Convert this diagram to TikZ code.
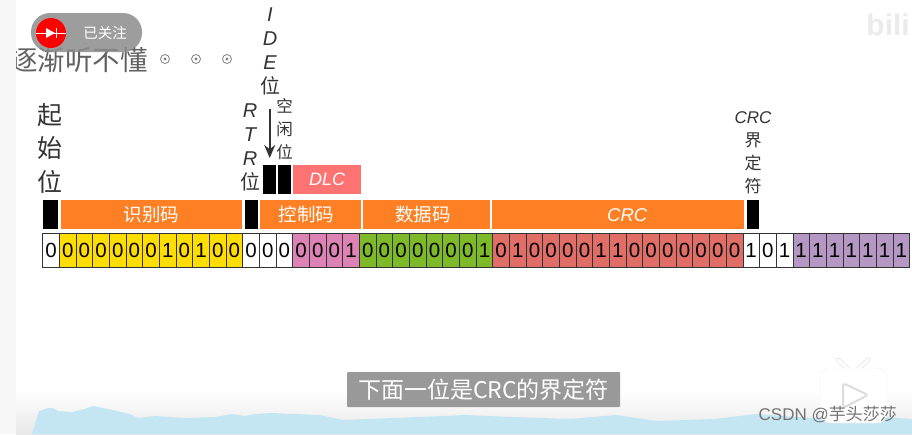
\documentclass[tikz,border=0pt]{standalone}
\usepackage{fontspec}
\setmainfont{Liberation Sans}
\newfontfamily\cjk{Noto Sans CJK SC}
\usetikzlibrary{calc, positioning}
\usetikzlibrary{arrows.meta}
\definecolor{bityellow}{HTML}{FFDD00}
\definecolor{bitpink}{HTML}{DC82B4}
\definecolor{bitgreen}{HTML}{7DB928}
\definecolor{bitred}{HTML}{E06E66}
\definecolor{bitpurple}{HTML}{B497C3}
\definecolor{fieldorange}{HTML}{FF8024}
\definecolor{dlcred}{HTML}{FF7373}
\definecolor{labelgray}{HTML}{333333}
\definecolor{subgray}{HTML}{999999}
\definecolor{wave}{HTML}{C4E6F3}
\tikzset{
  bitcell/.style={draw=black!80, line width=0.7pt, minimum width=16.67pt, minimum height=34pt,
    inner sep=0pt, font=\fontsize{20.5}{20}\selectfont},
  field/.style={fill=fieldorange, text=white, anchor=north west, minimum height=29pt,
    inner sep=0pt, font=\cjk\fontsize{18.5}{19}\selectfont},
  blackbit/.style={fill=black, anchor=north west, inner sep=0pt},
  vlabel/.style={text=labelgray, align=center, inner sep=0pt},
  watchdot/.style={circle, draw=gray, fill=white, line width=0.8pt, minimum size=9pt, inner sep=0pt}
}
\begin{document}
\begin{tikzpicture}[x=1pt,y=-1pt]
\def\w{16.67}
\def\xo{42.7}
\useasboundingbox (0,0) rectangle (912,434);
\fill[white] (0,0) rectangle (912,434);

% bottom of the page
\shade[top color=white, bottom color=black!9] (16,390) rectangle (912,434);
\fill[wave] (32,434) -- (39,411) -- (48,408) -- (53,408) -- (58,411) -- (72,412) -- (85,409) -- (93,406)
  -- (108,409) -- (130,414) -- (138,418) -- (155,416) -- (185,418) -- (215,417) -- (232,414) -- (245,416)
  -- (255,414) -- (272,413) -- (320,415) -- (343,420) -- (395,418) -- (465,415) -- (512,417) -- (570,419)
  -- (616,415) -- (657,421) -- (715,419) -- (756,414) -- (825,419) -- (872,416) -- (912,419) -- (912,434) -- cycle;

% scrolling comment and follow badge
\node[text=black!62, anchor=east, inner sep=0pt, font=\cjk\fontsize{27.5}{28}\selectfont] (comment) at (148,60) {逐渐听不懂};
\fill[black!3] (0,0) rectangle (16,434);
\foreach \x [count=\i] in {165,196,227} {
  \node[watchdot] (dot\i) at (\x,59) {};
  \fill[gray] (dot\i) circle (1.6);
}
\fill[black!45, opacity=0.85, rounded corners=19pt] (31,13) rectangle (142,52);
\node[circle, fill=red, minimum size=30pt, inner sep=0pt] (avatar) at (51,33) {};
\draw[white, line width=0.7pt] (avatar.west) -- (avatar.east);
\fill[white] (46,28) -- (55,33) -- (46,38) -- cycle;
\draw[white, line width=1pt] (56,28) -- (56,38);
\node[text=white, font=\cjk\fontsize{14.5}{15}\selectfont] (follow) at (105,33) {已关注};

% bit row
\foreach \first/\col/\bits in {0/white/{0}, 1/bityellow/{0,0,0,0,0,0,1,0,1,0,0}, 12/white/{0,0,0},
    15/bitpink/{0,0,0,1}, 19/bitgreen/{0,0,0,0,0,0,0,1},
    27/bitred/{0,1,0,0,0,0,1,1,0,0,0,0,0,0,0}, 42/white/{1,0,1}, 45/bitpurple/{1,1,1,1,1,1,1}} {
  \foreach \b [count=\i from \first] in \bits {
    \node[bitcell, fill=\col] (bit\i) at ({\xo+(\i+0.5)*\w},250) {\b};
  }
}

% field row
\node[blackbit, minimum width=15.5pt, minimum height=29pt] (sof) at (42.5,200) {};
\node[field, minimum width=181pt] (idfield) at (61,200) {识别码};
\node[blackbit, minimum width=13pt, minimum height=29pt] (rtrbit) at (245,200) {};
\node[field, minimum width=101.5pt] (ctrlfield) at (259.5,200) {\hspace*{-8pt}控制码};
\node[field, minimum width=127pt] (datafield) at (363,200) {\hspace*{-7pt}数据码};
\node[field, minimum width=252pt, font=\itshape\fontsize{18.5}{19}\selectfont] (crcfield) at (492,200) {\hspace*{18pt}CRC};
\node[blackbit, minimum width=12.5pt, minimum height=29pt] (crcdel) at (746.5,200) {};

% control code details
\node[blackbit, minimum width=13pt, minimum height=29pt] (idebit) at (263,165) {};
\node[blackbit, minimum width=13pt, minimum height=29pt] (spacebit) at (278,165) {};
\node[field, fill=dlcred, minimum width=68pt, font=\itshape\fontsize{18}{19}\selectfont] (dlc) at (293,165) {DLC};

% labels
\node[vlabel, font=\cjk\fontsize{25}{33.5}\selectfont] (soflabel) at (50,148) {起\\始\\位};
\node[vlabel, font=\itshape\fontsize{20}{24}\selectfont] (rtrlabel) at (250,147) {R\\T\\R\\{\cjk\upshape 位}};
\node[vlabel, font=\itshape\fontsize{20}{24}\selectfont] (idelabel) at (270,51) {I\\D\\E\\{\cjk\upshape 位}};
\node[vlabel, font=\cjk\fontsize{16.5}{23}\selectfont] (spacelabel) at (284.5,129) {空\\闲\\位};
\node[vlabel, font=\fontsize{17}{23}\selectfont] (crclabel) at (753,153) {{\itshape CRC}\\{\cjk 界}\\{\cjk 定}\\{\cjk 符}};
\draw[-{Stealth[length=13pt,width=11pt]}, line width=1.8pt, labelgray, shorten <=14pt, shorten >=7pt]
  (idelabel.south -| idebit.north) -- (idebit.north);

% subtitle
\node[fill=subgray, text=white, rounded corners=1pt, minimum width=273pt, minimum height=35pt, inner sep=0pt,
  font=\cjk\fontsize{23}{24}\selectfont] (subtitle) at (483.5,389.5) {下面一位是CRC的界定符};

% player mark and watermarks
\draw[black!10, line width=4.5pt, line cap=round] (848,369) -- (838,360) (858,369) -- (868,360);
\draw[white, line width=3pt, line cap=round] (848,369) -- (838,360) (858,369) -- (868,360);
\fill[white, rounded corners=10pt, draw=black!6] (820,368) rectangle (887,423);
\draw[black!14, fill=white, line width=2pt, rounded corners=3pt] (843,383) -- (868,395) -- (843,408) -- cycle;
\node[text=black!55, anchor=east, inner sep=0pt, font=\fontsize{17}{18}\selectfont] (csdn) at (897,415) {CSDN @{\cjk 芋头莎莎}};
\node[text=black!8, anchor=east, inner sep=0pt, font=\bfseries\fontsize{30}{31}\selectfont] (bili) at (910,25) {bili};
\end{tikzpicture}
\end{document}
